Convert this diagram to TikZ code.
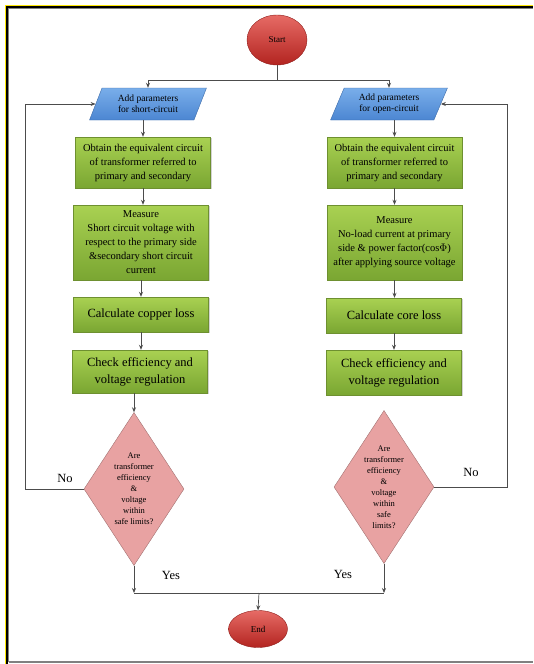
\documentclass[tikz,border=0pt]{standalone}
\usepackage{fontspec}
\setmainfont{Liberation Serif}
\usepackage{xcolor}
\usetikzlibrary{positioning,arrows.meta,shapes,calc,shadows}

\definecolor{termred}{HTML}{E0463F}
\definecolor{termdark}{HTML}{B32420}
\definecolor{iotop}{HTML}{79AEEA}
\definecolor{iobot}{HTML}{4C86D2}
\definecolor{proctop}{HTML}{A9D152}
\definecolor{procbot}{HTML}{7AA632}
\definecolor{procedge}{HTML}{6E9030}
\definecolor{decfill}{HTML}{E8A2A2}

\begin{document}
\begin{tikzpicture}[x=1pt, y=-1pt,
    terminal/.style={ellipse, draw=termdark!80!black, top color=termred!80!white, bottom color=termdark, inner sep=0pt, font=\fontsize{9}{10}\selectfont},
    io/.style={trapezium, trapezium left angle=65, trapezium right angle=115, trapezium stretches=true, draw=iobot!80!black, top color=iotop, bottom color=iobot, minimum width=117pt, minimum height=32pt, inner sep=0pt, align=center, font=\fontsize{9.5}{11}\selectfont},
    process/.style={rectangle, draw=procedge, top color=proctop, bottom color=procbot, minimum width=135pt, inner sep=1pt, align=center, drop shadow={shadow xshift=1.2pt, shadow yshift=-1.2pt, opacity=0.35}},
    small/.style={font=\fontsize{10.5}{14}\selectfont},
    big/.style={font=\fontsize{12.5}{17}\selectfont},
    decision/.style={diamond, draw=decfill!70!black, fill=decfill, shape aspect=0.67, inner sep=1pt, minimum width=100pt, minimum height=153pt, align=center, font=\fontsize{8.5}{11}\selectfont},
    label/.style={font=\fontsize{12.5}{14}\selectfont},
    line/.style={draw=black!70, line width=0.7pt},
    arrow/.style={line, -{Stealth[length=5pt, width=4pt]}}
]
\useasboundingbox (0,0) rectangle (533,664);

% frame
\draw[yellow!90!orange, line width=1pt] (5.5,664) -- (5.5,5.5) -- (533,5.5);
\draw[black, line width=2pt] (7,664) -- (7,7) -- (533,7);
\draw[gray, line width=0.8pt] (8.6,662) -- (8.6,8.6) -- (533,8.6);
\draw[gray, line width=1.2pt] (8.6,662) -- (533,662);

% terminals
\node[terminal, minimum width=60pt, minimum height=50pt] (start) at (277,40) {Start};
\node[terminal, minimum width=59pt, minimum height=37pt] (finish) at (258,629) {End};

% short-circuit branch
\node[io] (addsc) at (148,104) {Add parameters\\for short-circuit};
\node[process, small, minimum height=51pt] (eqsc) at (143,162.5) {Obtain the equivalent circuit\\of transformer referred to\\primary and secondary};
\node[process, small, minimum height=75pt] (measc) at (141,242.5) {Measure\\Short circuit voltage with\\respect to the primary side\\\&secondary short circuit\\current};
\node[process, big, minimum height=35pt] (losssc) at (141,314.5) {Calculate copper loss};
\node[process, big, minimum height=43pt] (chksc) at (140,371.5) {Check efficiency and\\voltage regulation};
\node[decision] (decsc) at (134,489) {Are\\transformer\\efficiency\\\&\\voltage\\within\\safe limits?};

% open-circuit branch
\node[io] (addoc) at (389,104) {Add parameters\\for open-circuit};
\node[process, small, minimum height=51pt] (eqoc) at (394.5,162.5) {Obtain the equivalent circuit\\of transformer referred to\\primary and secondary};
\node[process, small, minimum height=75pt] (meaoc) at (394.5,242.5) {Measure\\No-load current at primary\\side \& power factor(cos$\Phi$)\\after applying source voltage};
\node[process, big, minimum height=35pt] (lossoc) at (394,315.5) {Calculate core loss};
\node[process, big, minimum height=45pt] (chkoc) at (394,372.5) {Check efficiency and\\voltage regulation};
\node[decision] (decoc) at (384,487) {Are\\transformer\\efficiency\\\&\\voltage\\within\\safe\\limits?};

% labels
\node[label] (nosc) at (65,478) {No};
\node[label] (nooc) at (471,472) {No};
\node[label] (yessc) at (171,575) {Yes};
\node[label] (yesoc) at (343,574) {Yes};

% helper points
\coordinate (split) at (277,80);
\coordinate (join) at (259,593);
\coordinate (loopsc) at (25,489);
\coordinate (loopoc) at (507,487);

% connectors
\draw[line] (start.south) -- (split);
\draw[arrow] (split) -| (addsc.north);
\draw[arrow] (split) -| (addoc.north);

\draw[arrow] (addsc.south -| eqsc.north) -- (eqsc.north);
\draw[arrow] (eqsc.south) -- (eqsc.south |- measc.north);
\draw[arrow] (measc.south) -- (losssc.north);
\draw[arrow] (losssc.south) -- (losssc.south |- chksc.north);
\draw[arrow] (chksc.south -| decsc.north) -- (decsc.north);

\draw[arrow] (addoc.south -| eqoc.north) -- (eqoc.north);
\draw[arrow] (eqoc.south) -- (meaoc.north);
\draw[arrow] (meaoc.south) -- (meaoc.south |- lossoc.north);
\draw[arrow] (lossoc.south) -- (lossoc.south |- chkoc.north);

\draw[arrow] (decsc.west) -- (loopsc) |- (addsc.west);
\draw[arrow] (decoc.east) -- (loopoc) |- (addoc.east);

\draw[arrow] (decsc.south) -- (decsc.south |- join);
\draw[arrow] (decoc.south) -- (decoc.south |- join);
\draw[line] (decsc.south |- join) -- (decoc.south |- join);
\draw[arrow] (join) -- (finish.north);

\end{tikzpicture}
\end{document}
